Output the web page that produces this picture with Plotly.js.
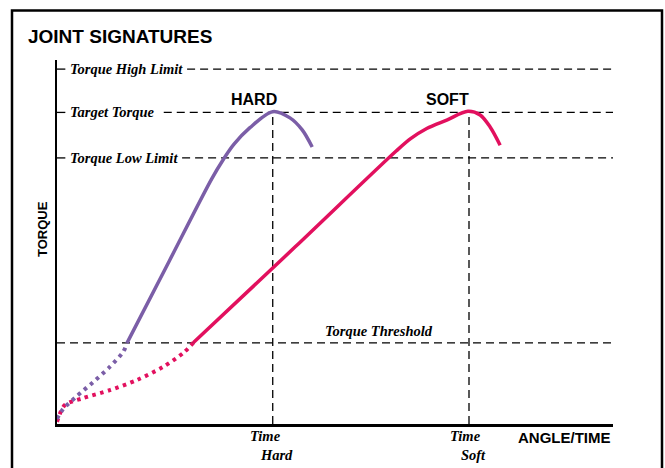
<!DOCTYPE html>
<html>
<head>
<meta charset="utf-8">
<script src="https://cdn.plot.ly/plotly-3.0.1.min.js"></script>
<style>html,body{margin:0;padding:0;background:#fff;}#chart{width:665px;height:468px;}</style>
</head>
<body>
<div id="chart"></div>
<script>
// ---- data (x: angle/time units 0-100, y: torque units 0-100) ----
var hardDottedX = [0, 1.1, 3.6, 6.5, 9.5, 11.9, 12.6];
var hardDottedY = [1.4, 4.1, 7.7, 11.5, 15.7, 19.8, 22.3];
var hardSolidX = [12.6, 20.2, 27.8, 29.8, 31.8, 34.7, 38.8, 41.9, 44.1, 45.9];
var hardSolidY = [22.3, 44.8, 67.3, 72.4, 76.8, 81.4, 85.8, 84.1, 80.8, 76.1];

var softDottedX = [0, 1.4, 4.7, 9.5, 14.4, 19.1, 22.7, 24.5];
var softDottedY = [0.6, 5.2, 7.1, 9.3, 12.1, 15.7, 19.5, 22.3];
var softSolidX = [24.5, 42.8, 61.0, 63.6, 66.5, 70.1, 73.9, 76.1, 77.9, 79.7];
var softSolidY = [22.3, 48.6, 75.0, 78.4, 81.2, 83.5, 85.9, 84.9, 81.6, 76.6];

var levelNames = ["Torque High Limit", "Target Torque", "Torque Low Limit", "Torque Threshold"];
var levelValues = [97.5, 85.6, 73.1, 22.3];
var levelLineStart = [23.4, 19.2, 22.5, 0];

var timeNames = ["Time<br>   Hard", "Time<br>   Soft"];
var timeValues = [38.8, 74.1];
var curveNames = ["HARD", "SOFT"];

var PURPLE = "#7b5ea7";
var PINK = "#e2105e";
var dashStyle = "8px,5px";

var traces = [];
// reference level lines
for (var i = 0; i < levelValues.length; i++) {
  traces.push({x: [levelLineStart[i], 100], y: [levelValues[i], levelValues[i]], mode: "lines",
    line: {color: "#000", width: 1.3, dash: dashStyle}, hoverinfo: "skip", showlegend: false});
  if (i < 3) {
    traces.push({x: [0, 1.5], y: [levelValues[i], levelValues[i]], mode: "lines",
      line: {color: "#000", width: 1.3}, hoverinfo: "skip", showlegend: false});
  }
}
// vertical time lines
for (var j = 0; j < timeValues.length; j++) {
  traces.push({x: [timeValues[j], timeValues[j]], y: [0, levelValues[1]], mode: "lines",
    line: {color: "#000", width: 1.3, dash: dashStyle}, hoverinfo: "skip", showlegend: false});
}
// curves
traces.push({x: softDottedX, y: softDottedY, mode: "lines", line: {color: PINK, width: 4, dash: "3.5px,4.5px", shape: "spline", smoothing: 0.8}, showlegend: false});
traces.push({x: hardDottedX, y: hardDottedY, mode: "lines", line: {color: PURPLE, width: 4, dash: "3.5px,4.5px", shape: "spline", smoothing: 0.8}, showlegend: false});
traces.push({x: hardSolidX, y: hardSolidY, mode: "lines", line: {color: PURPLE, width: 3.5, shape: "spline", smoothing: 0.9}, showlegend: false});
traces.push({x: softSolidX, y: softSolidY, mode: "lines", line: {color: PINK, width: 3.5, shape: "spline", smoothing: 0.9}, showlegend: false});

var serif = "Liberation Serif, Times New Roman, serif";
var sans = "Liberation Sans, Arial, sans-serif";
var annotations = [];
// level labels
var labelX = [1.9, 1.9, 1.9];
for (var k = 0; k < 3; k++) {
  annotations.push({x: labelX[k], y: levelValues[k], xref: "x", yref: "y", text: "<b><i>" + levelNames[k] + "</i></b>",
    showarrow: false, xanchor: "left", yanchor: "middle", font: {family: serif, size: 14.5, color: "#000"}});
}
annotations.push({x: 58, y: levelValues[3], xref: "x", yref: "y", yshift: 12, text: "<b><i>" + levelNames[3] + "</i></b>",
  showarrow: false, xanchor: "center", yanchor: "middle", font: {family: serif, size: 14.5, color: "#000"}});
// curve labels
annotations.push({x: 35.4, y: levelValues[1], xref: "x", yref: "y", yshift: 13, text: "<b>" + curveNames[0] + "</b>",
  showarrow: false, xanchor: "center", yanchor: "middle", font: {family: sans, size: 16, color: "#000"}});
annotations.push({x: 70.3, y: levelValues[1], xref: "x", yref: "y", yshift: 13, text: "<b>" + curveNames[1] + "</b>",
  showarrow: false, xanchor: "center", yanchor: "middle", font: {family: sans, size: 16, color: "#000"}});
// time labels
for (var m = 0; m < timeValues.length; m++) {
  annotations.push({x: timeValues[m], y: 0, xref: "x", yref: "y", xshift: -1, yshift: -21, text: "<b><i>" + timeNames[m] + "</i></b>",
    showarrow: false, xanchor: "center", yanchor: "middle", align: "left", font: {family: serif, size: 14.5, color: "#000"}});
}
// axis labels
annotations.push({x: 100, y: 0, xref: "x", yref: "y", yshift: -13, text: "<b>ANGLE/TIME</b>",
  showarrow: false, xanchor: "right", yanchor: "middle", font: {family: sans, size: 15, color: "#000"}});
annotations.push({x: -15/556, y: (424 - 229) / 364, xref: "paper", yref: "paper", text: "<b>TORQUE</b>", textangle: -90,
  showarrow: false, xanchor: "center", yanchor: "middle", font: {family: sans, size: 13, color: "#000"}});

var layout = {
  width: 665, height: 468,
  margin: {l: 57, r: 52, t: 60, b: 44, pad: 0},
  paper_bgcolor: "#fff", plot_bgcolor: "#fff",
  title: {text: "<b>JOINT SIGNATURES</b>", x: 28 / 665, xanchor: "left", xref: "container",
    y: 1 - 36.5 / 468, yref: "container", yanchor: "middle",
    font: {family: sans, size: 19, color: "#000"}},
  xaxis: {range: [0, 100], showgrid: false, zeroline: false, showticklabels: false, ticks: "",
    showline: true, linecolor: "#000", linewidth: 2.5, fixedrange: true},
  yaxis: {range: [0, 100], showgrid: false, zeroline: false, showticklabels: false, ticks: "",
    showline: true, linecolor: "#000", linewidth: 2, fixedrange: true},
  annotations: annotations,
  shapes: [{type: "rect", xref: "paper", yref: "paper",
    x0: (12 - 57) / 556, x1: (662 - 57) / 556, y0: (424 - 490) / 364, y1: (424 - 10.5) / 364,
    line: {color: "#000", width: 2.5}, fillcolor: "rgba(0,0,0,0)", layer: "below"}],
  showlegend: false
};

Plotly.newPlot("chart", traces, layout, {displayModeBar: false, staticPlot: true});
</script>
</body>
</html>
